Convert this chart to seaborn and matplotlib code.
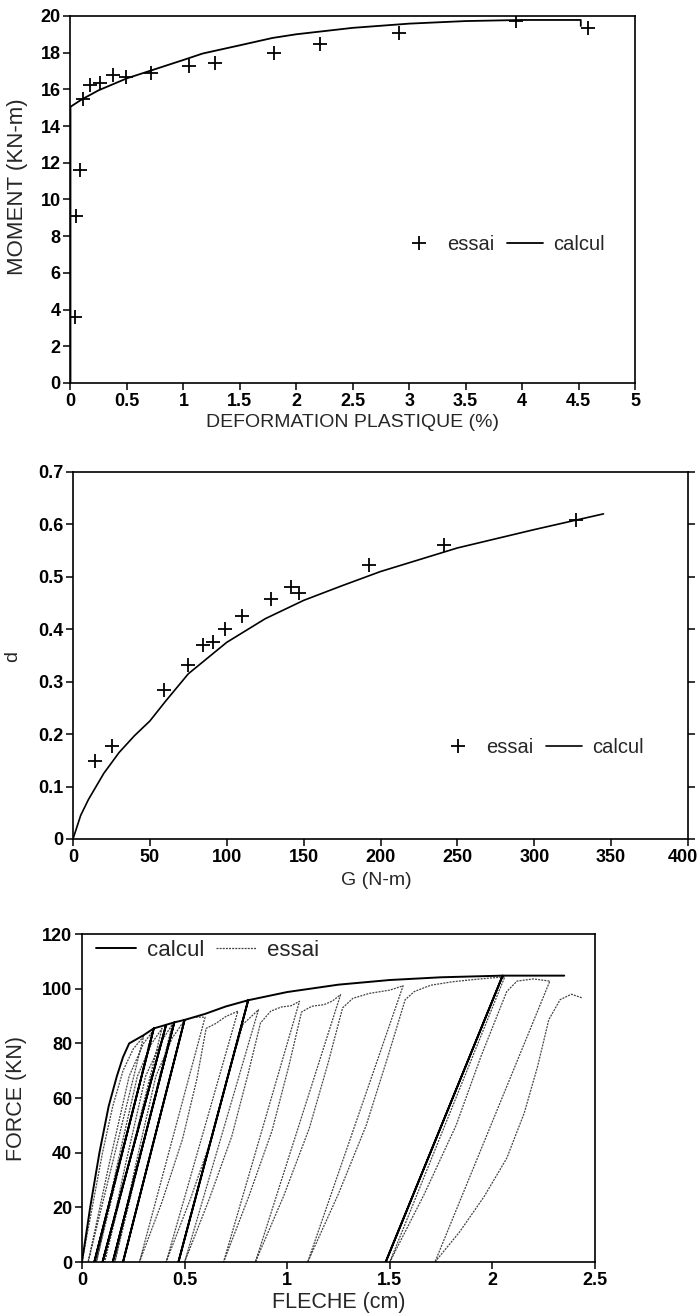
# Moment / damage / force-deflection comparison, essai vs calcul
import numpy as np
import pandas as pd
import matplotlib
matplotlib.use("Agg")
import matplotlib.pyplot as plt
from matplotlib import font_manager
from matplotlib.lines import Line2D
from matplotlib.ticker import FuncFormatter
from matplotlib.transforms import ScaledTranslation
import seaborn as sns

#### data
# panel 1 : moment vs plastic deformation
def_essai = [0.044, 0.05, 0.08, 0.11, 0.175, 0.265, 0.375, 0.49, 0.71, 1.05, 1.28, 1.80, 2.21, 2.91, 3.95, 4.58]
mom_essai = [3.6, 9.1, 11.6, 15.47, 16.24, 16.32, 16.77, 16.66, 16.9, 17.26, 17.43, 18.0, 18.46, 19.08, 19.75, 19.36]
def_calcul = [0, 0, 0.1, 0.25, 0.5, 0.7, 1.0, 1.17, 1.5, 1.79, 2.0, 2.5, 3.0, 3.5, 4.0, 4.52, 4.52]
mom_calcul = [0, 15.05, 15.45, 15.95, 16.6, 17.0, 17.6, 17.95, 18.4, 18.8, 19.0, 19.35, 19.58, 19.72, 19.78, 19.78, 19.45]

# panel 2 : d vs G
g_essai = [14.4, 25.5, 59.2, 74.8, 84.8, 91.2, 98.8, 110, 129, 142, 147, 192.7, 241, 327]
d_essai = [0.148, 0.178, 0.285, 0.331, 0.369, 0.375, 0.401, 0.425, 0.458, 0.48, 0.469, 0.523, 0.561, 0.609]
g_calcul = [0, 5, 10, 20, 30, 40, 50, 60, 75, 100, 125, 150, 175, 200, 250, 300, 345]
d_calcul = [0, 0.045, 0.075, 0.125, 0.165, 0.197, 0.225, 0.262, 0.315, 0.375, 0.42, 0.455, 0.483, 0.51, 0.555, 0.59, 0.62]

# panel 3 : force vs deflection (load / unload / reload paths)
fl_calcul = [0, 0.04, 0.085, 0.13, 0.17, 0.2, 0.23, 0.3, 0.35,
             0.06, 0.35, 0.41,
             0.10, 0.41, 0.45,
             0.15, 0.45, 0.50,
             0.20, 0.50, 0.6, 0.7, 0.81,
             0.47, 0.81, 1.0, 1.25, 1.5, 1.75, 2.05,
             1.48, 2.05, 2.35]
fo_calcul = [0, 20, 40, 57, 68, 75, 80, 83, 85.5,
             0, 85.5, 86.8,
             0, 86.8, 87.7,
             0, 87.7, 88.6,
             0, 88.6, 90.8, 93.5, 95.8,
             0, 95.8, 98.8, 101.5, 103.2, 104.2, 104.8,
             0, 104.8, 104.8]

fl_essai = [0, 0.05, 0.1, 0.15, 0.2, 0.25, 0.3,
            0.03, 0.13, 0.23, 0.3, 0.34,
            0.07, 0.17, 0.27, 0.34, 0.39,
            0.11, 0.21, 0.31, 0.39, 0.44,
            0.16, 0.26, 0.36, 0.44, 0.5, 0.55, 0.6,
            0.28, 0.39, 0.49, 0.56, 0.605, 0.65, 0.7, 0.76,
            0.41, 0.528, 0.635, 0.713, 0.785, 0.83, 0.86,
            0.50, 0.62, 0.73, 0.81, 0.87, 0.92, 0.97, 1.02, 1.06,
            0.69, 0.813, 0.926, 1.009, 1.07, 1.12, 1.18, 1.22, 1.26,
            0.845, 0.982, 1.108, 1.20, 1.27, 1.32, 1.4, 1.5, 1.565,
            1.10, 1.25, 1.385, 1.49, 1.575, 1.62, 1.7, 1.8, 1.9, 2.0, 2.06,
            1.50, 1.669, 1.823, 1.943, 2.07, 2.12, 2.2, 2.28,
            1.72, 1.84, 1.96, 2.07, 2.155, 2.22, 2.275, 2.33, 2.385, 2.44]
fo_essai = [0, 20, 40, 57, 70, 78, 82.5,
            0, 35, 68, 80, 84,
            0, 35, 68, 80, 85.5,
            0, 35, 68, 81, 87,
            0, 35, 68, 82, 88.5, 89.6, 89.6,
            0, 22, 45, 67, 85.5, 87.2, 89.8, 91.8,
            0, 23, 46, 69, 87, 90.2, 92.3,
            0, 23, 46, 69, 87.5, 91.8, 93.3, 93.8, 95.4,
            0, 24, 48, 72, 91.5, 93.6, 94.2, 95.5, 97.8,
            0, 24, 49, 73, 93, 96.5, 98.3, 99.5, 101.1,
            0, 25, 50, 75, 96, 99, 101.3, 102.5, 103.3, 104, 104.3,
            0, 25, 50, 75, 99, 102.8, 103.6, 102.8,
            0, 11, 24, 38, 54.5, 71.5, 88.7, 96, 98, 96.6]

#### style
sns.set_theme(style="ticks")
names = {f.name for f in font_manager.fontManager.ttflist}
narrow = "Liberation Sans Narrow" in names
plt.rcParams["font.family"] = ["Liberation Sans", "DejaVu Sans"]
plt.rcParams["axes.linewidth"] = 1.2
plt.rcParams["axes.edgecolor"] = "black"

fmt = FuncFormatter(lambda v, p: f"{v:g}")
ESSAI_LS = (0, (1.6, 0.9))


def style_axes(ax):
    ax.tick_params(direction="out", length=5, width=1.1, labelsize=13, pad=2,
                   colors="black", top=False, right=False)
    for lab in ax.get_xticklabels() + ax.get_yticklabels():
        lab.set_fontweight("bold")
    for s in ax.spines.values():
        s.set_visible(True)
        s.set_color("black")
        s.set_linewidth(1.2)
    ax.xaxis.set_major_formatter(fmt)
    ax.yaxis.set_major_formatter(fmt)


def place_labels(ax, xl, yl, xpos, ypos, xsize, ysize):
    fam = "Liberation Sans Narrow" if narrow else "Liberation Sans"
    k = 1.15 if narrow else 1.0
    ax.set_xlabel(xl, fontsize=xsize * k, family=fam)
    ax.set_ylabel(yl, fontsize=ysize * k, family=fam)
    ax.xaxis.set_label_coords(*xpos)
    ax.yaxis.set_label_coords(*ypos)
    ax.xaxis.label.set_verticalalignment("center")
    ax.yaxis.label.set_verticalalignment("center")


fig = plt.figure(figsize=(7, 13.16), dpi=100)

#### panel 1
ax1 = fig.add_axes([0.1007, 0.7090, 0.8064, 0.2789])
df1e = pd.DataFrame({"x": def_essai, "y": mom_essai})
df1c = pd.DataFrame({"x": def_calcul, "y": mom_calcul})
sns.lineplot(data=df1c, x="x", y="y", sort=False, estimator=None, color="black", lw=1.3, ax=ax1)
sns.scatterplot(data=df1e, x="x", y="y", marker="+", s=110, color="black", linewidth=1.3, ax=ax1)
ax1.set_xlim(0, 5)
ax1.set_ylim(0, 20)
ax1.set_xticks(np.arange(0, 5.01, 0.5))
ax1.set_yticks(np.arange(0, 20.1, 2))
style_axes(ax1)
place_labels(ax1, "DEFORMATION PLASTIQUE (%)", "MOMENT (KN-m)",
             (0.5, -0.109), (-0.093, 0.534), 14, 16)
h1 = [Line2D([], [], marker="+", ls="", color="black", ms=10.5, mew=1.3),
      Line2D([], [], color="black", lw=1.3)]
ax1.legend(h1, ["essai", "calcul"], ncol=2, frameon=False, fontsize=14.5,
           loc="center", bbox_to_anchor=(0.766, 0.376), handlelength=1.8,
           handletextpad=0.5, columnspacing=0.6)

#### panel 2
ax2 = fig.add_axes([0.1043, 0.3625, 0.8786, 0.2789])
df2e = pd.DataFrame({"x": g_essai, "y": d_essai})
df2c = pd.DataFrame({"x": g_calcul, "y": d_calcul})
sns.lineplot(data=df2c, x="x", y="y", sort=False, estimator=None, color="black", lw=1.2, ax=ax2)
sns.scatterplot(data=df2e, x="x", y="y", marker="+", s=110, color="black", linewidth=1.3, ax=ax2)
ax2.set_xlim(0, 400)
ax2.set_ylim(0, 0.7)
ax2.set_xticks(np.arange(0, 401, 50))
ax2.set_yticks(np.arange(0, 0.71, 0.1))
style_axes(ax2)
ax2.tick_params(axis="y", right=True, labelright=False)
# keep the last x label inside the figure edge
last = ax2.get_xticklabels()[-1]
last.set_transform(last.get_transform() + ScaledTranslation(-5 / 100, 0, fig.dpi_scale_trans))
place_labels(ax2, "G (N-m)", "d", (0.493, -0.112), (-0.098, 0.496), 14, 14)
h2 = [Line2D([], [], marker="+", ls="", color="black", ms=10.5, mew=1.3),
      Line2D([], [], color="black", lw=1.2)]
ax2.legend(h2, ["essai", "calcul"], ncol=2, frameon=False, fontsize=14.5,
           loc="center", bbox_to_anchor=(0.762, 0.25), handlelength=1.8,
           handletextpad=0.5, columnspacing=0.6)

#### panel 3
ax3 = fig.add_axes([0.1171, 0.0410, 0.7329, 0.2492])
df3e = pd.DataFrame({"x": fl_essai, "y": fo_essai})
df3c = pd.DataFrame({"x": fl_calcul, "y": fo_calcul})
sns.lineplot(data=df3e, x="x", y="y", sort=False, estimator=None, color="#444444",
             lw=0.9, linestyle=ESSAI_LS, ax=ax3)
sns.lineplot(data=df3c, x="x", y="y", sort=False, estimator=None, color="black", lw=1.4, ax=ax3)
ax3.set_xlim(0, 2.5)
ax3.set_ylim(0, 120)
ax3.set_xticks(np.arange(0, 2.51, 0.5))
ax3.set_yticks(np.arange(0, 121, 20))
style_axes(ax3)
place_labels(ax3, "FLECHE (cm)", "FORCE (KN)", (0.5, -0.122), (-0.127, 0.5), 15.5, 15.5)
h3 = [Line2D([], [], color="black", lw=1.4),
      Line2D([], [], color="#444444", lw=0.9, linestyle=ESSAI_LS)]
ax3.legend(h3, ["calcul", "essai"], ncol=2, frameon=False, fontsize=16,
           loc="center", bbox_to_anchor=(0.245, 0.951), handlelength=1.8,
           handletextpad=0.5, columnspacing=0.5)

fig.savefig("out.png", dpi=100)
